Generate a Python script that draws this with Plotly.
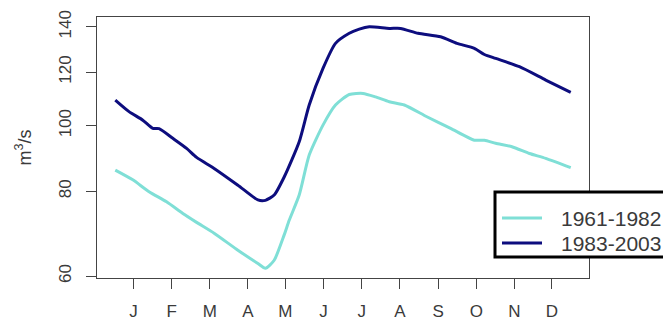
import plotly.graph_objects as go

# ---- data ----
months = ["J", "F", "M", "A", "M", "J", "J", "A", "S", "O", "N", "D"]
month_days = [15.5, 46, 76.5, 107, 137, 167.5, 198, 228.5, 259, 289.5, 320, 350]

y_ticks = [60, 80, 100, 120, 140]

days_1983 = [1, 12, 23, 31, 36, 47, 58, 66, 80, 99, 115, 121, 128, 136, 148,
             156, 167, 177, 188, 196, 204, 220, 229, 243, 261, 274, 288, 296, 305,
             324, 345, 365]
flow_1983 = [109.1, 104.9, 101.9, 99.1, 99.0, 95.8, 92.6, 89.8, 86.5, 81.7, 77.7,
             77.6, 79.0, 84.0, 94.7, 107.3, 121.5, 132.3, 136.9, 138.9, 140.0,
             139.2, 139.2, 136.9, 135.3, 132.3, 130.1, 127.4, 125.7, 122.2, 116.8, 112.0]

days_1961 = [1, 15, 28, 42, 55, 66, 80, 99, 115, 121, 128, 136, 140, 148, 156, 167,
             177, 188, 199, 209, 220, 232, 250, 269, 288, 296, 305, 318, 332, 345, 365]
flow_1961 = [86.0, 83.2, 79.9, 77.2, 74.2, 72.0, 69.4, 65.5, 62.6, 61.6, 63.3, 69.0,
             72.5, 79.0, 90.5, 100.2, 107.3, 111.2, 111.6, 110.3, 108.5, 107.3, 103.1,
             99.1, 95.2, 95.2, 94.2, 93.1, 91.0, 89.5, 86.7]

series_names = ["1961-1982", "1983-2003"]
series_colors = ["#7FDFD6", "#0D0D7E"]

# ---- layout geometry ----
W, H = 663, 320
ML, MR, MT, MB = 97, 74, 17, 42
PW, PH = W - ML - MR, H - MT - MB
FONT = "Liberation Sans, Arial, sans-serif"
GREY = "#3a3a3a"


def px_x(p):
    return (p - ML) / PW


def px_y(p):
    return (H - MB - p) / PH


fig = go.Figure()
fig.add_trace(go.Scatter(x=days_1961, y=flow_1961, mode="lines", name=series_names[0],
                         line=dict(color=series_colors[0], width=3, shape="spline",
                                   smoothing=0.6), showlegend=False))
fig.add_trace(go.Scatter(x=days_1983, y=flow_1983, mode="lines", name=series_names[1],
                         line=dict(color=series_colors[1], width=3, shape="spline",
                                   smoothing=0.6), showlegend=False))

fig.update_layout(
    width=W, height=H,
    margin=dict(l=ML, r=MR, t=MT, b=MB, autoexpand=False),
    paper_bgcolor="white", plot_bgcolor="white",
    font=dict(family=FONT, color=GREY),
    xaxis=dict(range=[-13.6, 379.6], tickvals=month_days, ticktext=months,
               showgrid=False, zeroline=False, showline=True, mirror=True,
               linecolor="#444", linewidth=1, ticks="outside", ticklen=10,
               tickcolor="#444", tickfont=dict(size=17, color=GREY),
               ticklabelstandoff=8),
    yaxis=dict(type="log", range=[1.7752, 2.1605], tickvals=y_ticks,
               ticktext=[str(v) for v in y_ticks], showgrid=False, zeroline=False,
               showline=True, mirror=True, linecolor="#444", linewidth=1,
               ticks="outside", ticklen=10, tickcolor="#444", tickangle=-90,
               tickfont=dict(size=17, color=GREY), ticklabelstandoff=8),
    showlegend=False,
)

# y-axis title
fig.add_annotation(text="m<sup>3</sup>/s", xref="paper", yref="paper", x=0, y=0.5,
                   xanchor="center", yanchor="middle", xshift=24 - ML, textangle=-90,
                   showarrow=False, font=dict(size=18, color=GREY, family=FONT))

# legend box (drawn like R's legend)
fig.add_shape(type="rect", xref="paper", yref="paper",
              x0=px_x(495), x1=px_x(690), y0=px_y(257), y1=px_y(192),
              line=dict(color="black", width=3), fillcolor="white", layer="above")
for i, (nm, col) in enumerate(zip(series_names, series_colors)):
    yy = 218 + 25 * i
    fig.add_shape(type="line", xref="paper", yref="paper",
                  x0=px_x(502), x1=px_x(542), y0=px_y(yy), y1=px_y(yy),
                  line=dict(color=col, width=3), layer="above")
    fig.add_annotation(text=nm, xref="paper", yref="paper", x=px_x(559), y=px_y(yy),
                       xanchor="left", yanchor="middle", showarrow=False,
                       font=dict(size=21, color=GREY, family=FONT))

fig.write_html("out.html")
